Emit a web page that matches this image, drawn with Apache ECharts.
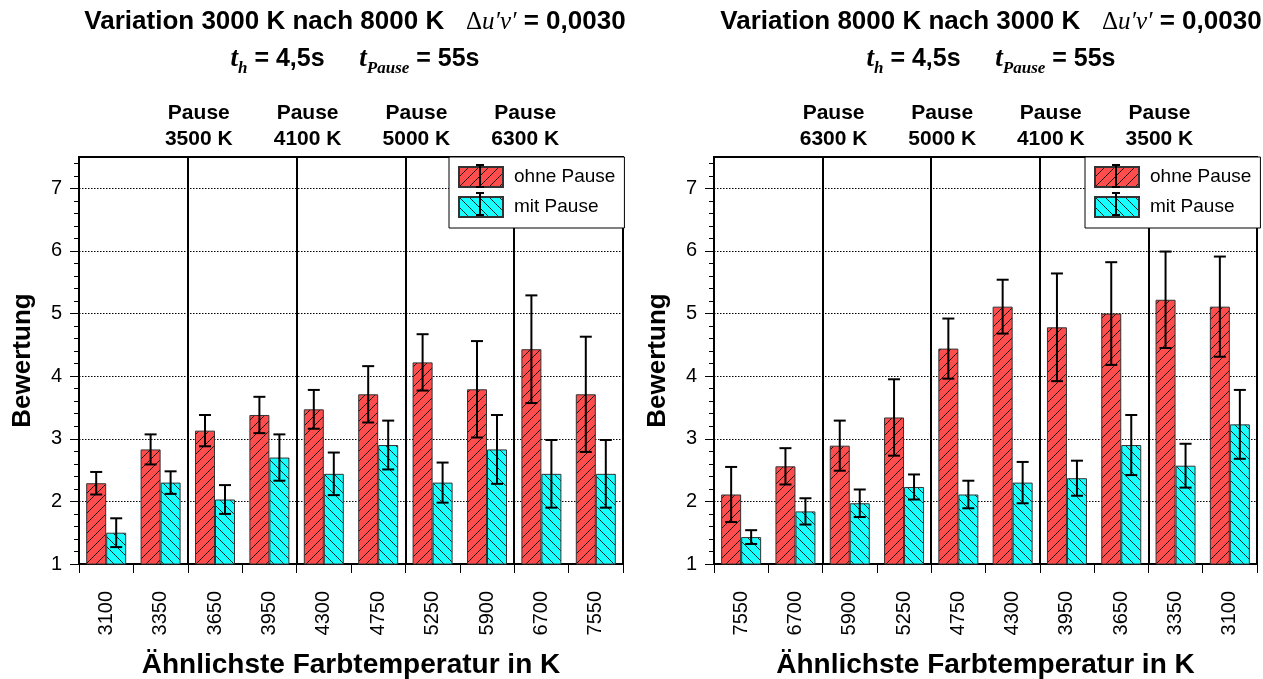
<!DOCTYPE html>
<html><head><meta charset="utf-8">
<script src="https://cdn.jsdelivr.net/npm/echarts@6/dist/echarts.min.js"></script>
<style>html,body{margin:0;padding:0;background:#fff}#c{width:1263px;height:679px}</style>
</head><body><div id="c"></div>
<script>
// ---------- data ----------
const catsLeft = ['3100','3350','3650','3950','4300','4750','5250','5900','6700','7550'];
const leftOhne = [2.29,2.83,3.13,3.38,3.47,3.71,4.22,3.79,4.43,3.71];
const leftOhneErr = [0.18,0.24,0.25,0.29,0.31,0.45,0.45,0.77,0.86,0.92];
const leftMit = [1.50,2.30,2.03,2.70,2.44,2.90,2.30,2.83,2.44,2.44];
const leftMitErr = [0.23,0.18,0.23,0.37,0.34,0.39,0.32,0.55,0.54,0.54];

const catsRight = ['7550','6700','5900','5250','4750','4300','3950','3650','3350','3100'];
const rightOhne = [2.11,2.56,2.89,3.34,4.44,5.11,4.78,5.00,5.22,5.11];
const rightOhneErr = [0.44,0.29,0.40,0.61,0.48,0.43,0.86,0.82,0.77,0.80];
const rightMit = [1.43,1.84,1.97,2.23,2.11,2.30,2.37,2.90,2.57,3.23];
const rightMitErr = [0.11,0.21,0.22,0.20,0.22,0.33,0.28,0.48,0.35,0.55];

const yTicks = [1,2,3,4,5,6,7];
const yMinorTicks = [1.2,1.4,1.6,1.8,2.2,2.4,2.6,2.8,3.2,3.4,3.6,3.8,4.2,4.4,4.6,4.8,5.2,5.4,5.6,5.8,6.2,6.4,6.6,6.8,7.2,7.4];
const pauseLeft = ['3500 K','4100 K','5000 K','6300 K'];
const pauseRight = ['6300 K','5000 K','4100 K','3500 K'];
const titleLeft = 'Variation 3000 K nach 8000 K';
const titleRight = 'Variation 8000 K nach 3000 K';
const seriesNames = ['ohne Pause','mit Pause'];

// ---------- helpers ----------
const SANS = 'Liberation Sans, Arial, sans-serif';
const SERIF = 'Liberation Serif, Times New Roman, serif';
function hatch(color, slash) {
  const s = 10;
  const c = document.createElement('canvas');
  c.width = s; c.height = s;
  const g = c.getContext('2d');
  g.fillStyle = color; g.fillRect(0, 0, s, s);
  g.strokeStyle = 'rgba(0,0,0,0.85)'; g.lineWidth = 1;
  g.beginPath();
  if (slash) {
    g.moveTo(-1, s + 1); g.lineTo(s + 1, -1);
    g.moveTo(-1, 1); g.lineTo(1, -1);
    g.moveTo(s - 1, s + 1); g.lineTo(s + 1, s - 1);
  } else {
    g.moveTo(-1, -1); g.lineTo(s + 1, s + 1);
    g.moveTo(s - 1, -1); g.lineTo(s + 1, 1);
    g.moveTo(-1, s - 1); g.lineTo(1, s + 1);
  }
  g.stroke();
  return c;
}
const redFill = { image: hatch('#ff4c4c', true), repeat: 'repeat' };
const cyanFill = { image: hatch('#18ffff', false), repeat: 'repeat' };

const grids = [
  { left: 79, width: 544, top: 157, height: 407 },
  { left: 714, width: 543, top: 157, height: 407 }
];

function xAxisFor(idx, cats) {
  return {
    type: 'category', gridIndex: idx, data: cats, boundaryGap: true,
    name: 'Ähnlichste Farbtemperatur in K', nameLocation: 'middle', nameGap: 87,
    nameTextStyle: { fontFamily: SANS, fontWeight: 'bold', fontSize: 28, color: '#000' },
    axisLine: { lineStyle: { color: '#000', width: 2 } },
    axisTick: { show: true, length: 9, lineStyle: { color: '#000', width: 1 } },
    axisLabel: { rotate: 90, margin: 27, fontFamily: SANS, fontSize: 20, color: '#000' },
    splitLine: { show: true, interval: (i) => i > 0 && i % 2 === 0, lineStyle: { color: '#000', width: 2, type: 'solid' } }
  };
}
function yAxesFor(idx) {
  return [{
    type: 'value', gridIndex: idx, min: 1, max: 7.5, interval: 1,
    name: 'Bewertung', nameLocation: 'middle', nameGap: 43, nameRotate: 90,
    nameTextStyle: { fontFamily: SANS, fontWeight: 'bold', fontSize: 26, color: '#000' },
    axisLine: { show: true, lineStyle: { color: '#000', width: 2 } },
    axisTick: { show: true, length: 9, customValues: yTicks, lineStyle: { color: '#000', width: 1 } },
    axisLabel: { margin: 17, fontFamily: SANS, fontSize: 20, color: '#000', customValues: yTicks },
    splitLine: { show: true, lineStyle: { color: '#000', width: 1, type: [1.5, 1.5] } }
  }, {
    type: 'value', gridIndex: idx, min: 1, max: 7.5, interval: 0.2, position: 'left',
    axisLine: { show: false },
    axisTick: { show: true, length: 5, customValues: yMinorTicks, lineStyle: { color: '#000', width: 1 } },
    axisLabel: { show: false }, splitLine: { show: false }
  }];
}
function barSeries(idx, name, data, fill) {
  return {
    type: 'bar', name, xAxisIndex: idx, yAxisIndex: idx * 2, data,
    barWidth: 20, barGap: '0%',
    itemStyle: { color: fill, borderColor: '#333', borderWidth: 1 },
    emphasis: { disabled: true }, z: 2
  };
}
function errSeries(idx, vals, errs, offset) {
  const data = vals.map((v, i) => [i, v, v + errs[i], v - errs[i]]);
  return {
    type: 'custom', xAxisIndex: idx, yAxisIndex: idx * 2, data, z: 5,
    encode: { x: 0, y: [1, 2, 3] }, silent: true,
    renderItem(params, api) {
      const hi = api.coord([api.value(0), api.value(2)]);
      const lo = api.coord([api.value(0), api.value(3)]);
      const cx = hi[0] + offset;
      const hw = 6;
      const st = { stroke: '#000', lineWidth: 2 };
      return { type: 'group', children: [
        { type: 'line', shape: { x1: cx, y1: hi[1], x2: cx, y2: lo[1] }, style: st },
        { type: 'line', shape: { x1: cx - hw, y1: hi[1], x2: cx + hw, y2: hi[1] }, style: st },
        { type: 'line', shape: { x1: cx - hw, y1: lo[1], x2: cx + hw, y2: lo[1] }, style: st }
      ]};
    }
  };
}
function legendFor(left) {
  return {
    orient: 'vertical', left, top: 157, data: seriesNames,
    padding: [9, 9, 10, 9], itemWidth: 44, itemHeight: 20, itemGap: 8,
    icon: 'rect', selectedMode: false,
    textStyle: { fontFamily: SANS, fontSize: 19, color: '#000', padding: [0, 0, 0, 6] },
    borderColor: '#000', borderWidth: 1, backgroundColor: '#fff', z: 10
  };
}

const chart = echarts.init(document.getElementById('c'), null, { renderer: 'canvas' });
const option = {
  animation: false,
  backgroundColor: '#fff',
  grid: grids.map(g => Object.assign({ show: true, borderColor: '#000', borderWidth: 2, backgroundColor: 'transparent', containLabel: false, outerBoundsMode: 'none' }, g)),
  xAxis: [xAxisFor(0, catsLeft), xAxisFor(1, catsRight)],
  yAxis: [...yAxesFor(0), ...yAxesFor(1)],
  legend: [legendFor(449), legendFor(1085)],
  series: [
    barSeries(0, seriesNames[0], leftOhne, redFill),
    barSeries(0, seriesNames[1], leftMit, cyanFill),
    errSeries(0, leftOhne, leftOhneErr, -10),
    errSeries(0, leftMit, leftMitErr, 10),
    barSeries(1, seriesNames[0], rightOhne, redFill),
    barSeries(1, seriesNames[1], rightMit, cyanFill),
    errSeries(1, rightOhne, rightOhneErr, -10),
    errSeries(1, rightMit, rightMitErr, 10)
  ]
};
chart.setOption(option);

// ---------- annotations ----------
const richTitle = {
  b: { fontFamily: SANS, fontWeight: 'bold', fontSize: 26, fill: '#000', color: '#000' },
  d: { fontFamily: SERIF, fontSize: 25, fill: '#000', color: '#000' },
  i: { fontFamily: SERIF, fontStyle: 'italic', fontSize: 25, fill: '#000', color: '#000' },
  t: { fontFamily: SERIF, fontStyle: 'italic', fontWeight: 'bold', fontSize: 27, fill: '#000', color: '#000' },
  s: { fontFamily: SERIF, fontStyle: 'italic', fontWeight: 'bold', fontSize: 17, fill: '#000', color: '#000', padding: [20, 0, 0, 0] },
  m: { fontFamily: SANS, fontWeight: 'bold', fontSize: 25, fill: '#000', color: '#000' }
};
const graphics = [];
function addTitle(cx, t1) {
  graphics.push({ type: 'text', x: cx, y: 22, z: 20, style: {
    text: '{b|' + t1 + '}{b|   }{d|Δ}{i|u′v′}{b| = 0,0030}', rich: richTitle,
    align: 'center', verticalAlign: 'middle' } });
  graphics.push({ type: 'text', x: cx, y: 59, z: 20, style: {
    text: '{t|t}{s|h}{m| = 4,5s     }{t|t}{s|Pause}{m| = 55s}', rich: richTitle,
    align: 'center', verticalAlign: 'middle' } });
}
addTitle(355, titleLeft);
addTitle(991, titleRight);

function addPause(gi, cats, labels) {
  const xi = gi === 0 ? 0 : 1;
  labels.forEach((lab, k) => {
    const a = chart.convertToPixel({ xAxisIndex: xi }, cats[2 * k + 1]);
    const b = chart.convertToPixel({ xAxisIndex: xi }, cats[2 * k + 2]);
    const x = (a + b) / 2 + 11;
    graphics.push({ type: 'text', x, y: 113, z: 20, style: { text: 'Pause', fontFamily: SANS, fontWeight: 'bold', fontSize: 21, fill: '#000', align: 'center', verticalAlign: 'middle' } });
    graphics.push({ type: 'text', x, y: 139, z: 20, style: { text: lab, fontFamily: SANS, fontWeight: 'bold', fontSize: 21, fill: '#000', align: 'center', verticalAlign: 'middle' } });
  });
}
addPause(0, catsLeft, pauseLeft);
addPause(1, catsRight, pauseRight);

// error-bar glyphs inside legend icons
[449, 1085].forEach(lx => {
  const cx = lx + 9 + 22;
  [176, 204].forEach(cy => {
    const st = { stroke: '#000', lineWidth: 2 };
    graphics.push({ type: 'line', z: 30, shape: { x1: cx, y1: cy - 11, x2: cx, y2: cy + 11 }, style: st });
    graphics.push({ type: 'line', z: 30, shape: { x1: cx - 4, y1: cy - 11, x2: cx + 4, y2: cy - 11 }, style: st });
    graphics.push({ type: 'line', z: 30, shape: { x1: cx - 4, y1: cy + 11, x2: cx + 4, y2: cy + 11 }, style: st });
  });
});
chart.setOption({ graphic: graphics });
</script>
</body></html>
